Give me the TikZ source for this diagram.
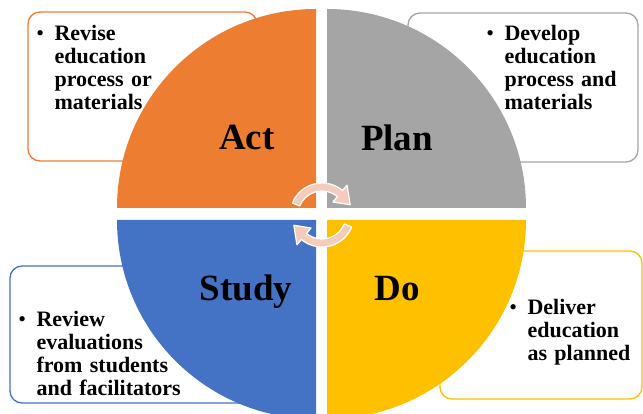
\documentclass[tikz,border=0pt]{standalone}
\usepackage{fontspec}
\setmainfont{Liberation Serif}
\usetikzlibrary{positioning, calc}
\definecolor{actC}{HTML}{ED7D31}
\definecolor{planC}{HTML}{A5A5A5}
\definecolor{studyC}{HTML}{4472C4}
\definecolor{doC}{HTML}{FFC000}
\definecolor{cycC}{HTML}{F5CBBC}

\begin{document}
\begin{tikzpicture}[x=1pt, y=1pt,
  box/.style = {draw, line width=1.3pt, rounded corners=12pt, fill=white, inner sep=0pt},
  txt/.style = {font=\fontsize{22}{23}\selectfont\bfseries, text width=190pt, align=left, inner sep=0pt, anchor=base west},
  dot/.style = {font=\fontsize{22}{23}\selectfont, inner sep=0pt},
  big/.style = {font=\fontsize{37}{37}\selectfont\bfseries, inner sep=0pt, anchor=base},
  cyc/.style = {fill=cycC, draw=white, line width=1.2pt, line join=round}]
\useasboundingbox (0,0) rectangle (643,413);

\node[box, draw=actC, minimum width=229pt, minimum height=149pt] (actBox) at (142.5,326.5) {};
\node[box, draw=planC, minimum width=230pt, minimum height=149pt] (planBox) at (523,325.5) {};
\node[box, draw=studyC, minimum width=250pt, minimum height=137pt] (studyBox) at (135,78.5) {};
\node[box, draw=doC, minimum width=202pt, minimum height=148pt] (doBox) at (541,88) {};

\coordinate (actO) at (316,205);
\coordinate (planO) at (327,205);
\coordinate (studyO) at (316,193);
\coordinate (doO) at (327,193);
\fill[actC] (actO) -- ++(-199,0) arc[start angle=180, end angle=90, radius=199] -- cycle;
\fill[planC] (planO) -- ++(0,199) arc[start angle=90, end angle=0, radius=199] -- cycle;
\fill[studyC] (studyO) -- ++(-199,0) arc[start angle=180, end angle=270, radius=199] -- cycle;
\fill[doC] (doO) -- ++(0,-199) arc[start angle=270, end angle=360, radius=199] -- cycle;

\coordinate (c) at (322,198);
\foreach \r in {0,180}
  \filldraw[cyc] ($(c)+({158+\r}:32)$) arc[start angle={158+\r}, end angle={50+\r}, radius=32]
    -- ($(c)+({50+\r}:39)$) -- ($(c)+({20+\r}:30)$) -- ($(c)+({50+\r}:17)$)
    -- ($(c)+({50+\r}:24)$) arc[start angle={50+\r}, end angle={158+\r}, radius=24] -- cycle;

\node[big] (act) at ([shift={(-69,58)}]actO) {Act};
\node[big] (plan) at ([shift={(70,57)}]planO) {Plan};
\node[big] (study) at ([shift={(-70,-80)}]studyO) {Study};
\node[big] (do) at ([shift={(70,-80)}]doO) {Do};

\node[txt] (actTxt) at ([shift={(27,-29)}]actBox.north west) {Revise\\education\\process or\\materials};
\node[txt] (planTxt) at ([shift={(97,-28)}]planBox.north west) {Develop\\education\\process and\\materials};
\node[txt] (studyTxt) at ([shift={(27,-61)}]studyBox.north west) {Review\\evaluations\\from students\\and facilitators};
\node[txt] (doTxt) at ([shift={(88,-64)}]doBox.north west) {Deliver\\education\\as planned};

\node[dot, left=10pt of actTxt.base west, anchor=base east] (actDot) {\textbullet};
\node[dot, left=10pt of planTxt.base west, anchor=base east] (planDot) {\textbullet};
\node[dot, left=10pt of studyTxt.base west, anchor=base east] (studyDot) {\textbullet};
\node[dot, left=10pt of doTxt.base west, anchor=base east] (doDot) {\textbullet};
\end{tikzpicture}
\end{document}
